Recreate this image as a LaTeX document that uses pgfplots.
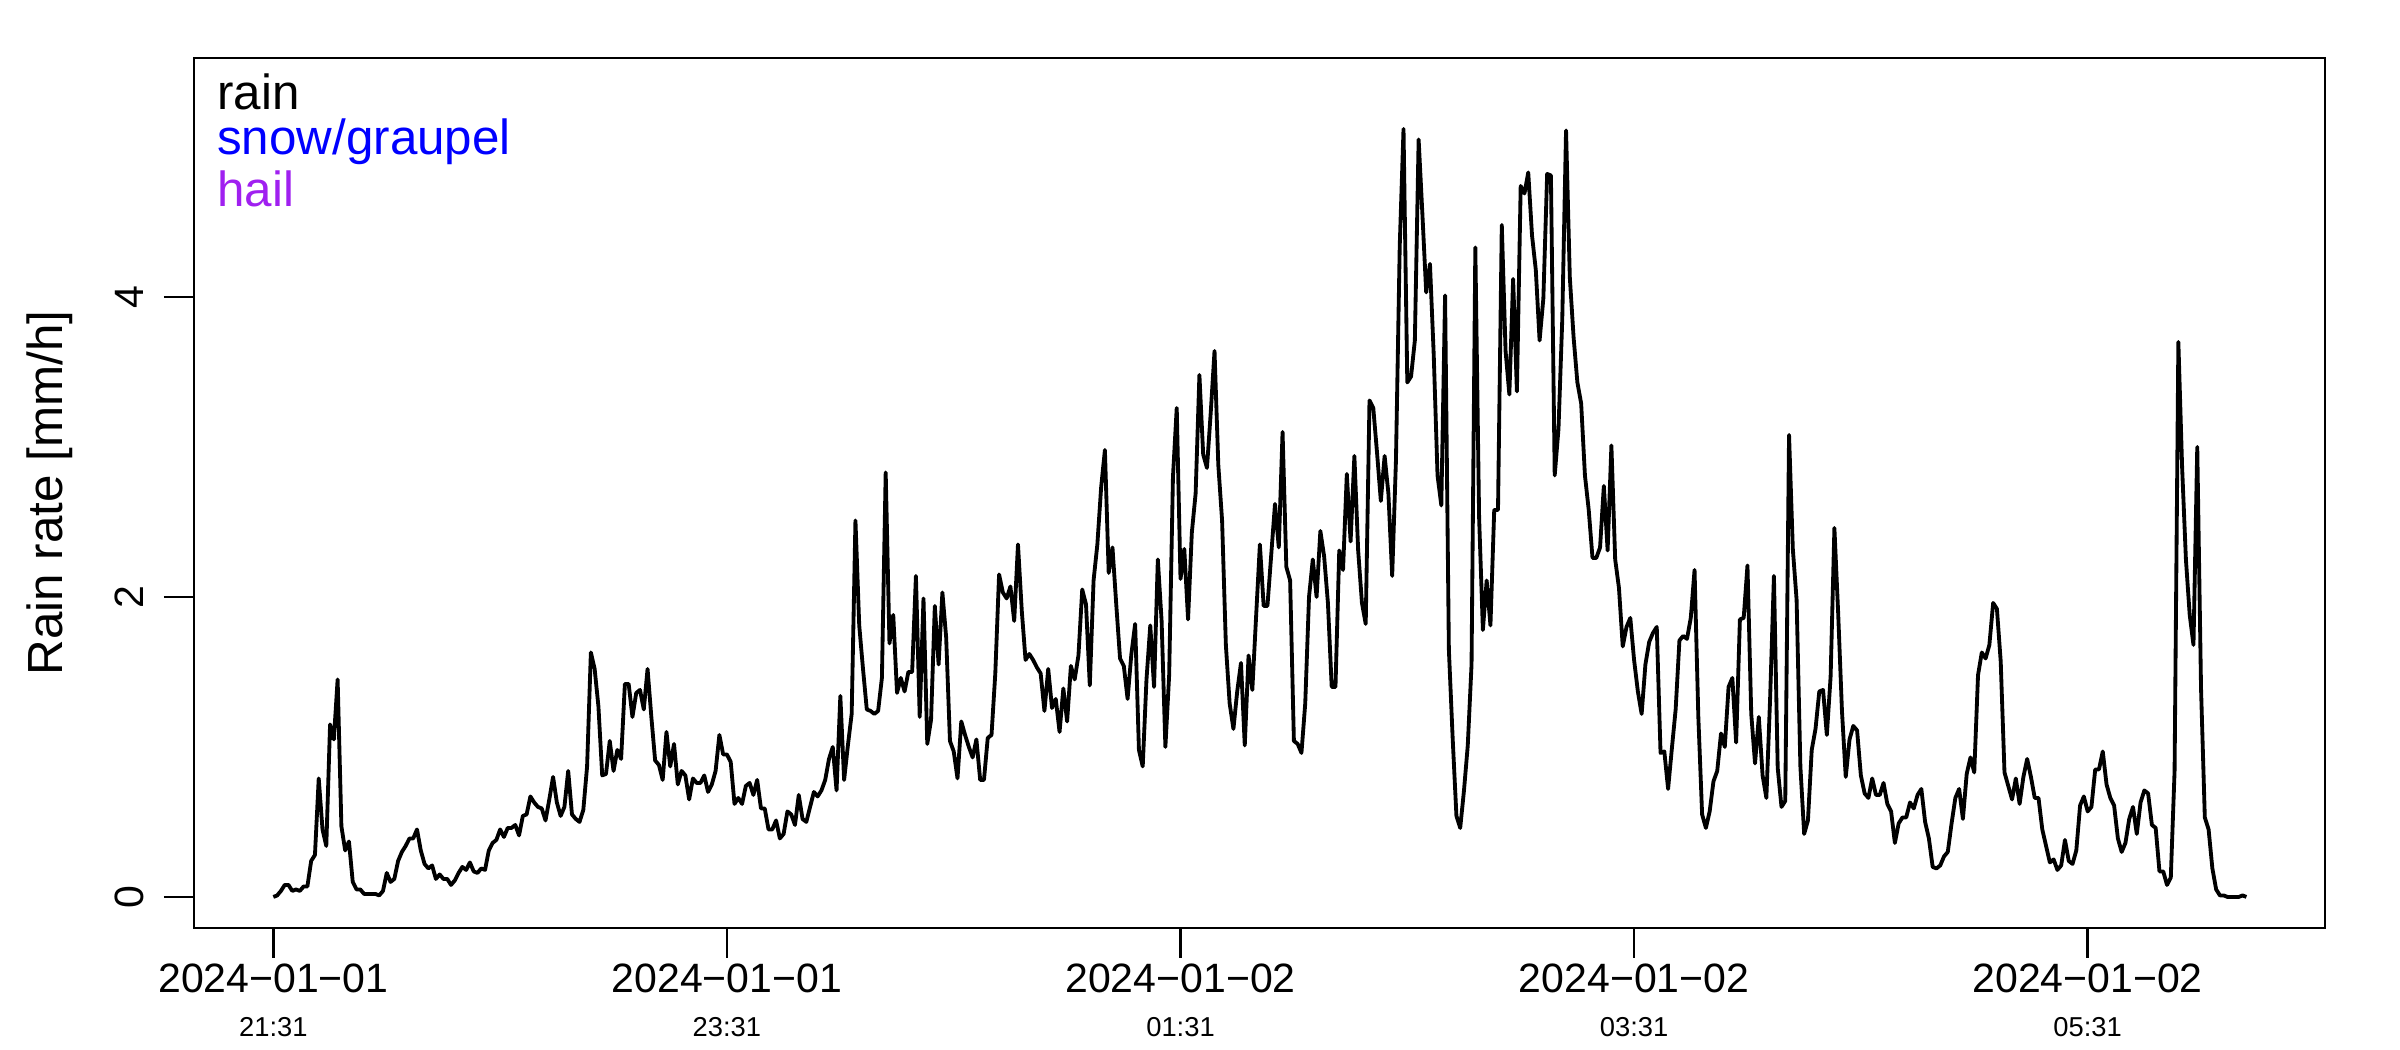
\documentclass[border=0pt]{standalone}
\usepackage{fontspec}
\setmainfont{Liberation Sans}
\usepackage{pgfplots}
\usepackage{pgfplotstable}
\pgfplotsset{compat=1.18}
\definecolor{rpurple}{HTML}{A020F0}

\pgfplotstableread{
t v
0 0.00
1 0.01
2 0.04
3 0.08
4 0.08
5 0.04
6 0.05
7 0.04
8 0.07
9 0.07
10 0.24
11 0.28
12 0.79
13 0.45
14 0.34
15 1.15
16 1.05
17 1.45
18 0.47
19 0.31
20 0.37
21 0.10
22 0.05
23 0.05
24 0.02
25 0.02
26 0.02
27 0.02
28 0.01
29 0.04
30 0.16
31 0.10
32 0.12
33 0.24
34 0.30
35 0.34
36 0.39
37 0.39
38 0.45
39 0.31
40 0.22
41 0.19
42 0.21
43 0.12
44 0.15
45 0.12
46 0.12
47 0.08
48 0.11
49 0.16
50 0.20
51 0.18
52 0.23
53 0.17
54 0.16
55 0.19
56 0.18
57 0.31
58 0.36
59 0.38
60 0.45
61 0.40
62 0.46
63 0.46
64 0.48
65 0.41
66 0.54
67 0.55
68 0.67
69 0.63
70 0.60
71 0.59
72 0.51
73 0.65
74 0.80
75 0.63
76 0.54
77 0.60
78 0.84
79 0.55
80 0.52
81 0.50
82 0.58
83 0.87
84 1.63
85 1.52
86 1.27
87 0.81
88 0.82
89 1.04
90 0.84
91 0.98
92 0.92
93 1.42
94 1.42
95 1.20
96 1.36
97 1.38
98 1.25
99 1.52
100 1.20
101 0.91
102 0.88
103 0.78
104 1.10
105 0.87
106 1.02
107 0.75
108 0.84
109 0.81
110 0.65
111 0.79
112 0.76
113 0.76
114 0.81
115 0.70
116 0.75
117 0.84
118 1.08
119 0.95
120 0.95
121 0.90
122 0.62
123 0.66
124 0.62
125 0.74
126 0.76
127 0.68
128 0.78
129 0.59
130 0.59
131 0.45
132 0.45
133 0.51
134 0.39
135 0.42
136 0.57
137 0.55
138 0.48
139 0.68
140 0.52
141 0.50
142 0.60
143 0.70
144 0.67
145 0.71
146 0.78
147 0.92
148 1.00
149 0.71
150 1.34
151 0.78
152 1.01
153 1.22
154 2.51
155 1.81
156 1.52
157 1.25
158 1.24
159 1.22
160 1.24
161 1.46
162 2.83
163 1.69
164 1.88
165 1.36
166 1.46
167 1.37
168 1.50
169 1.50
170 2.14
171 1.20
172 1.99
173 1.02
174 1.18
175 1.94
176 1.55
177 2.03
178 1.73
179 1.04
180 0.97
181 0.79
182 1.17
183 1.08
184 1.00
185 0.93
186 1.05
187 0.78
188 0.78
189 1.06
190 1.08
191 1.49
192 2.15
193 2.03
194 1.99
195 2.07
196 1.84
197 2.35
198 1.91
199 1.58
200 1.62
201 1.58
202 1.53
203 1.49
204 1.24
205 1.52
206 1.26
207 1.32
208 1.10
209 1.39
210 1.17
211 1.54
212 1.45
213 1.61
214 2.05
215 1.95
216 1.41
217 2.11
218 2.35
219 2.73
220 2.98
221 2.16
222 2.33
223 1.95
224 1.59
225 1.54
226 1.32
227 1.62
228 1.82
229 0.98
230 0.87
231 1.45
232 1.81
233 1.40
234 2.25
235 1.84
236 1.00
237 1.48
238 2.80
239 3.26
240 2.12
241 2.32
242 1.85
243 2.43
244 2.69
245 3.48
246 2.95
247 2.86
248 3.23
249 3.64
250 2.88
251 2.51
252 1.68
253 1.29
254 1.12
255 1.37
256 1.56
257 1.01
258 1.61
259 1.38
260 1.87
261 2.35
262 1.94
263 1.94
264 2.28
265 2.62
266 2.33
267 3.10
268 2.20
269 2.11
270 1.04
271 1.02
272 0.96
273 1.29
274 2.00
275 2.25
276 2.00
277 2.44
278 2.27
279 1.96
280 1.40
281 1.40
282 2.31
283 2.18
284 2.82
285 2.37
286 2.94
287 2.31
288 1.96
289 1.82
290 3.31
291 3.26
292 2.96
293 2.64
294 2.94
295 2.69
296 2.14
297 2.91
298 4.34
299 5.12
300 3.43
301 3.47
302 3.71
303 5.05
304 4.55
305 4.03
306 4.22
307 3.61
308 2.81
309 2.61
310 4.01
311 1.65
312 1.06
313 0.54
314 0.46
315 0.71
316 1.01
317 1.55
318 4.33
319 2.53
320 1.78
321 2.11
322 1.81
323 2.58
324 2.58
325 4.48
326 3.64
327 3.35
328 4.12
329 3.37
330 4.74
331 4.69
332 4.83
333 4.41
334 4.18
335 3.71
336 3.99
337 4.82
338 4.81
339 2.81
340 3.12
341 3.85
342 5.11
343 4.13
344 3.73
345 3.43
346 3.29
347 2.81
348 2.58
349 2.26
350 2.26
351 2.33
352 2.74
353 2.31
354 3.01
355 2.25
356 2.06
357 1.67
358 1.80
359 1.86
360 1.58
361 1.37
362 1.22
363 1.55
364 1.70
365 1.76
366 1.80
367 0.96
368 0.97
369 0.72
370 0.99
371 1.25
372 1.71
373 1.74
374 1.72
375 1.86
376 2.18
377 1.20
378 0.55
379 0.46
380 0.57
381 0.77
382 0.84
383 1.09
384 1.00
385 1.40
386 1.46
387 1.03
388 1.85
389 1.86
390 2.21
391 1.22
392 0.89
393 1.20
394 0.81
395 0.66
396 1.33
397 2.14
398 0.86
399 0.60
400 0.64
401 3.08
402 2.32
403 1.98
404 0.87
405 0.42
406 0.51
407 0.98
408 1.12
409 1.37
410 1.38
411 1.08
412 1.47
413 2.46
414 1.89
415 1.24
416 0.80
417 1.05
418 1.14
419 1.11
420 0.81
421 0.69
422 0.66
423 0.79
424 0.68
425 0.68
426 0.76
427 0.62
428 0.57
429 0.36
430 0.49
431 0.53
432 0.53
433 0.63
434 0.59
435 0.68
436 0.72
437 0.50
438 0.39
439 0.20
440 0.19
441 0.21
442 0.27
443 0.30
444 0.49
445 0.66
446 0.72
447 0.52
448 0.82
449 0.93
450 0.83
451 1.48
452 1.63
453 1.59
454 1.68
455 1.96
456 1.92
457 1.57
458 0.83
459 0.74
460 0.65
461 0.79
462 0.62
463 0.80
464 0.92
465 0.80
466 0.66
467 0.66
468 0.45
469 0.34
470 0.23
471 0.25
472 0.18
473 0.21
474 0.38
475 0.24
476 0.22
477 0.31
478 0.61
479 0.67
480 0.57
481 0.60
482 0.85
483 0.85
484 0.97
485 0.75
486 0.66
487 0.61
488 0.39
489 0.30
490 0.36
491 0.52
492 0.60
493 0.42
494 0.63
495 0.71
496 0.69
497 0.48
498 0.46
499 0.17
500 0.17
501 0.08
502 0.13
503 0.84
504 3.70
505 2.86
506 2.25
507 1.88
508 1.68
509 3.00
510 1.39
511 0.53
512 0.45
513 0.19
514 0.05
515 0.01
516 0.01
517 0.00
518 0.00
519 0.00
520 0.00
521 0.01
522 0.00
}\raindata

\begin{document}
\begin{tikzpicture}
\begin{axis}[
  at={(58.2pt,36.6pt)}, anchor=south west,
  width=639.3pt, height=261pt, scale only axis,
  xmin=-21, xmax=542.8,
  ymin=-0.207, ymax=5.593,
  xtick={0,120,240,360,480}, ytick={0,2,4},
  xticklabels={}, yticklabels={},
  xtick pos=left, ytick pos=left,
  tick align=outside, major tick length=9pt,
  tick style={black, line width=0.75pt},
  axis line style={black, line width=0.75pt},
  clip mode=individual,
]
\addplot[black, line width=1.15pt, line join=round, mark=none] table[x=t, y=v] {\raindata};

\node[anchor=base, inner sep=0pt, font=\fontsize{12.3}{14}\selectfont] at ([yshift=-19.5pt]axis cs:0,-0.207) {2024−01−01};
\node[anchor=base, inner sep=0pt, font=\fontsize{12.3}{14}\selectfont] at ([yshift=-19.5pt]axis cs:120,-0.207) {2024−01−01};
\node[anchor=base, inner sep=0pt, font=\fontsize{12.3}{14}\selectfont] at ([yshift=-19.5pt]axis cs:240,-0.207) {2024−01−02};
\node[anchor=base, inner sep=0pt, font=\fontsize{12.3}{14}\selectfont] at ([yshift=-19.5pt]axis cs:360,-0.207) {2024−01−02};
\node[anchor=base, inner sep=0pt, font=\fontsize{12.3}{14}\selectfont] at ([yshift=-19.5pt]axis cs:480,-0.207) {2024−01−02};
\node[anchor=base, inner sep=0pt, font=\fontsize{8.2}{10}\selectfont] at ([yshift=-32.6pt]axis cs:0,-0.207) {21:31};
\node[anchor=base, inner sep=0pt, font=\fontsize{8.2}{10}\selectfont] at ([yshift=-32.6pt]axis cs:120,-0.207) {23:31};
\node[anchor=base, inner sep=0pt, font=\fontsize{8.2}{10}\selectfont] at ([yshift=-32.6pt]axis cs:240,-0.207) {01:31};
\node[anchor=base, inner sep=0pt, font=\fontsize{8.2}{10}\selectfont] at ([yshift=-32.6pt]axis cs:360,-0.207) {03:31};
\node[anchor=base, inner sep=0pt, font=\fontsize{8.2}{10}\selectfont] at ([yshift=-32.6pt]axis cs:480,-0.207) {05:31};

\node[rotate=90, anchor=base, inner sep=0pt, font=\fontsize{12.3}{14}\selectfont] at ([xshift=-15pt]axis cs:-21,0) {0};
\node[rotate=90, anchor=base, inner sep=0pt, font=\fontsize{12.3}{14}\selectfont] at ([xshift=-15pt]axis cs:-21,2) {2};
\node[rotate=90, anchor=base, inner sep=0pt, font=\fontsize{12.3}{14}\selectfont] at ([xshift=-15pt]axis cs:-21,4) {4};

\node[rotate=90, anchor=base, inner sep=0pt, font=\fontsize{14.8}{17}\selectfont] at ([xshift=-39.3pt]rel axis cs:0,0.5) {Rain rate [mm/h]};

\node[anchor=base west, inner sep=0pt, font=\fontsize{14.8}{17}\selectfont, text=black] at ([xshift=6.8pt, yshift=-15.6pt]rel axis cs:0,1) {rain};
\node[anchor=base west, inner sep=0pt, font=\fontsize{14.8}{17}\selectfont, text=blue] at ([xshift=6.8pt, yshift=-28.9pt]rel axis cs:0,1) {snow/graupel};
\node[anchor=base west, inner sep=0pt, font=\fontsize{14.8}{17}\selectfont, text=rpurple] at ([xshift=6.8pt, yshift=-44.6pt]rel axis cs:0,1) {hail};
\end{axis}
\pgfresetboundingbox
\path[use as bounding box] (0,0) rectangle (720pt,315pt);
\end{tikzpicture}
\end{document}
